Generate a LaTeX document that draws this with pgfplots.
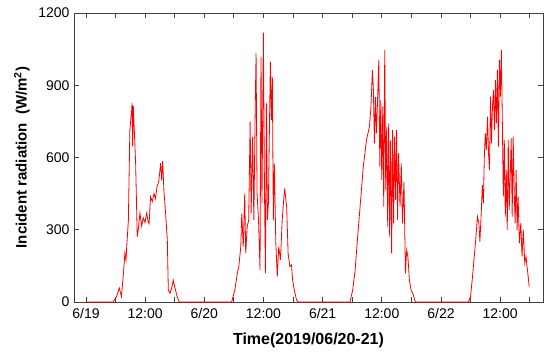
\documentclass[border=0pt]{standalone}
\usepackage{pgfplots}
\pgfplotsset{compat=1.18}
\usepackage{fontspec}
\setmainfont{Liberation Sans}
\begin{document}
\begin{tikzpicture}
\begin{axis}[
  scale only axis,
  width=469pt, height=289pt,
  xmin=-2.43, xmax=92.7,
  ymin=0, ymax=1200,
  xtick={0,6,...,90},
  xticklabels={6/19,,12:00,,6/20,,12:00,,6/21,,12:00,,6/22,,12:00,},
  ytick={0,300,600,900,1200},
  tick align=inside,
  major tick length=5pt,
  tick style={black!75, line width=0.8pt},
  axis line style={black!75, line width=0.8pt},
  ticklabel style={font=\fontsize{14}{16}\selectfont},
  xticklabel style={yshift=-3pt},
  yticklabel style={xshift=-1pt, /pgf/number format/1000 sep={}},
  /pgf/number format/assume math mode=true,
  scaled y ticks=false,
  xlabel={\bfseries Time(2019/06/20-21)},
  ylabel={\bfseries Incident radiation\ \ (W/m\textsuperscript{2})},
  xlabel style={font=\fontsize{16}{18}\selectfont, at={(axis description cs:0.5,-0.1315)}, anchor=center},
  ylabel style={font=\fontsize{15}{17}\selectfont, at={(axis description cs:-0.1109,0.5)}, anchor=center},
  clip=true,
]
\addplot[red, line width=0.8pt] coordinates {
(0,0) (5.5,0) (6.2,22) (6.76,58) (7.2,22) (7.6,120) (7.9,203) (8.1,174) (8.6,340)
(8.9,714) (9.27,797) (9.35,826) (9.47,645) (9.6,815) (10.07,577) (10.4,271) (10.6,300)
(10.95,369) (11.3,315) (11.6,350) (11.97,330) (12.3,369) (12.6,335) (12.8,325)
(13.1,437) (13.45,417) (13.8,450) (14.1,430) (14.4,478) (14.76,500) (15.15,577)
(15.35,505) (15.55,585) (15.8,465) (16.15,369) (16.5,258) (16.7,50) (17.03,36)
(17.4,58) (17.7,91) (18.05,58) (18.5,22) (18.9,0)
(29.55,0) (30.2,50) (30.7,120) (31.0,147) (31.4,230) (31.6,368) (31.9,230) (32.2,451)
(32.4,202) (32.7,313) (33.0,340) (33.3,749) (33.5,368) (33.8,686) (34.05,340)
(34.35,839) (34.5,1033) (34.7,451) (35.0,340) (35.3,133) (35.5,1019) (35.7,410)
(35.98,1118) (36.2,479) (36.4,120) (36.6,825) (36.8,340) (37.0,410) (37.4,998)
(37.6,756) (37.8,935) (38.0,340) (38.2,575) (38.5,250) (38.8,105) (39.1,230)
(39.45,175) (39.8,340) (40.05,410) (40.3,472) (40.7,396) (41.0,202) (41.35,147)
(41.7,154) (41.9,92) (42.25,50) (42.7,9) (43.05,0)
(53.55,0) (54.1,50) (54.6,133) (55.05,257) (55.6,396) (56.25,562) (56.9,673)
(57.5,728) (57.8,811) (58.1,963) (58.3,880) (58.5,659) (58.7,852) (58.9,700)
(59.1,811) (59.4,1005) (59.6,562) (59.8,838) (60.0,507) (60.2,811) (60.4,396)
(60.6,1046) (60.8,465) (61.0,728) (61.2,313) (61.4,742) (61.6,271) (61.8,673)
(62.0,202) (62.2,714) (62.4,327) (62.6,687) (62.8,424) (63.0,714) (63.2,341)
(63.4,618) (63.7,396) (63.95,576) (64.2,327) (64.5,500) (64.8,119) (65.05,216)
(65.3,188) (65.6,91) (65.95,50) (66.3,36) (66.8,0)
(77.55,0) (78.0,22) (78.4,105) (78.75,188) (79.05,257) (79.4,354) (79.7,327)
(79.9,251) (80.2,382) (80.4,486) (80.6,410) (80.8,603) (81.0,700) (81.2,631)
(81.45,770) (81.65,617) (81.85,548) (82.05,853) (82.25,659) (82.45,811) (82.65,880)
(82.85,714) (83.05,922) (83.25,742) (83.45,963) (83.65,645) (83.85,1005) (84.05,853)
(84.25,1046) (84.45,756) (84.65,438) (84.85,673) (85.05,355) (85.25,548) (85.45,300)
(85.65,673) (85.85,382) (86.05,521) (86.25,680) (86.45,355) (86.65,687) (86.85,465)
(87.05,327) (87.25,548) (87.45,300) (87.65,438) (87.9,244) (88.2,327) (88.45,188)
(88.7,300) (89.0,161) (89.25,188) (89.55,133) (89.9,64)
};
\end{axis}
\path (current axis.south west) ++(-74pt,-52pt) coordinate (bbA);
\path (current axis.north east) ++(7pt,13pt) coordinate (bbB);
\path[use as bounding box] (bbA) rectangle (bbB);
\end{tikzpicture}
\end{document}
